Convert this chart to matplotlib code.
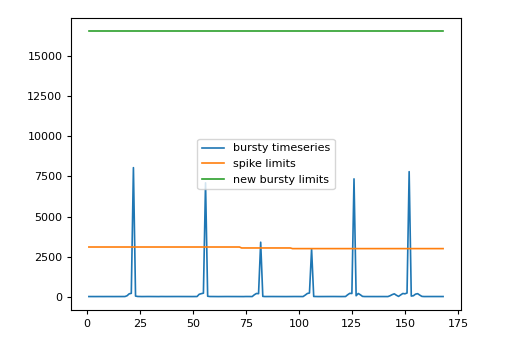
from matplotlib import pyplot as plt
import numpy as np

hours = np.arange(1, 169)

# hourly values, one row per day
bursty = [
    10, 8, 12, 9, 11, 10, 7, 9, 12, 10, 8, 11, 9, 10, 12, 8, 10, 11, 60, 180, 210, 8050, 40, 15,
    10, 9, 11, 8, 12, 10, 9, 11, 10, 8, 12, 9, 10, 11, 8, 10, 12, 9, 11, 10, 8, 9, 12, 10,
    11, 9, 10, 12, 150, 190, 220, 7100, 30, 12, 10, 9, 11, 8, 10, 12, 9, 11, 10, 8, 12, 10, 9, 11,
    10, 8, 12, 9, 11, 10, 120, 200, 190, 3400, 20, 10, 12, 9, 11, 10, 8, 12, 9, 10, 11, 8, 10, 12,
    9, 11, 10, 8, 12, 10, 100, 200, 230, 2980, 15, 11, 9, 10, 12, 8, 10, 11, 9, 12, 10, 8, 11, 9,
    10, 12, 120, 210, 200, 7350, 60, 200, 120, 20, 10, 9, 11, 8, 12, 10, 9, 11, 10, 8, 12, 9, 60, 130,
    180, 90, 20, 110, 200, 180, 230, 7800, 40, 60, 160, 190, 100, 20, 10, 12, 9, 11, 10, 8, 12, 10, 9, 11,
]

# limits recomputed once per day
spike_limits_daily = [3100, 3100, 3100, 3040, 3000, 3000, 3000]
bursty_limits_daily = [16550, 16550, 16550, 16550, 16550, 16550, 16550]

spike_limits = np.repeat(spike_limits_daily, 24)
bursty_limits = np.repeat(bursty_limits_daily, 24)

plt.rcParams['font.size'] = 8
plt.rcParams['xtick.major.size'] = 2.8
plt.rcParams['ytick.major.size'] = 2.8
plt.rcParams['axes.linewidth'] = 0.8

fig = plt.figure(figsize=(5.12, 3.42), dpi=100)
fig.subplots_adjust(left=0.139, right=0.900, top=0.947, bottom=0.094)

plt.plot(hours, bursty, label='bursty timeseries', lw=1.2)
plt.plot(hours, spike_limits, label='spike limits', lw=1.2)
plt.plot(hours, bursty_limits, label='new bursty limits', lw=1.2)
plt.legend(loc='center')

plt.savefig('out.png')
